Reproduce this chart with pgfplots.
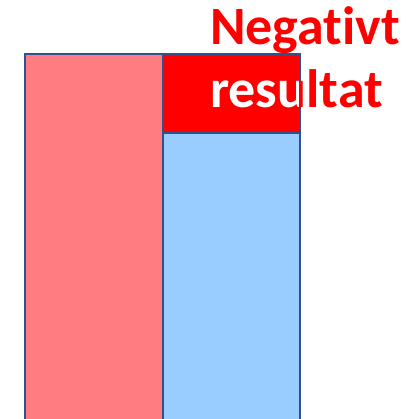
\documentclass[border=0pt]{standalone}
\usepackage{pgfplots}
\pgfplotsset{compat=1.18}
\usepackage{fontspec}
\setmainfont{Carlito}[Ligatures=NoCommon]
\definecolor{pinkc}{HTML}{FF7C80}
\definecolor{bluec}{HTML}{99CCFF}
\definecolor{redc}{HTML}{FF0000}
\definecolor{borderc}{HTML}{2F528F}
\begin{document}
\begin{tikzpicture}
\begin{axis}[
  scale only axis, width=416pt, height=419pt,
  xmin=0, xmax=416, ymin=0, ymax=419,
  hide axis, clip=true,
]
\addplot[fill=pinkc, draw=borderc, line width=2.6pt] coordinates {(25,-10) (25,365) (163,365) (163,-10) (25,-10)};
\addplot[fill=bluec, draw=borderc, line width=2.6pt] coordinates {(163,-10) (163,286) (300,286) (300,-10) (163,-10)};
\addplot[fill=redc, draw=borderc, line width=2.6pt] coordinates {(163,286) (163,365) (300,365) (300,286) (163,286)};
\coordinate (t1) at (axis cs:210,374);
\coordinate (t2) at (axis cs:210,311);
\coordinate (c1) at (axis cs:164.3,287.3);
\coordinate (c2) at (axis cs:298.7,363.7);
\coordinate (bb1) at (axis cs:0,0);
\coordinate (bb2) at (axis cs:416,419);
\end{axis}
\node[anchor=base west, inner sep=0pt, text=redc, font=\fontsize{54}{63}\selectfont\bfseries] at (t1) {Negativt};
\node[anchor=base west, inner sep=0pt, text=redc, font=\fontsize{54}{63}\selectfont\bfseries] at (t2) {resultat};
\begin{scope}
\clip (c1) rectangle (c2);
\node[anchor=base west, inner sep=0pt, text=white, font=\fontsize{54}{63}\selectfont\bfseries] at (t2) {resultat};
\end{scope}
\pgfresetboundingbox
\path[use as bounding box] (bb1) rectangle (bb2);
\end{tikzpicture}
\end{document}
